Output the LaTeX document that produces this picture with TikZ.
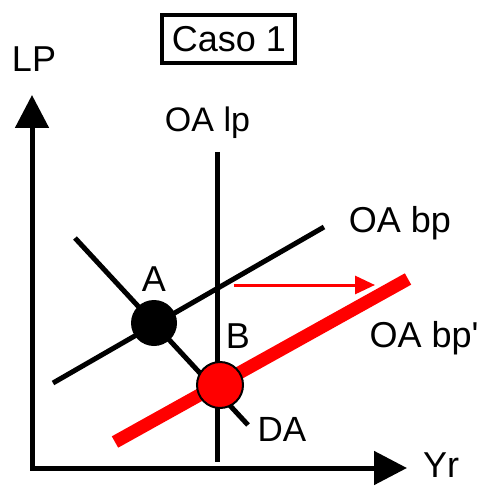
\documentclass[tikz,border=0pt]{standalone}
\usepackage{fontspec}
\setmainfont{Liberation Sans}
\newfontfamily\lsans{Liberation Sans}
\usetikzlibrary{arrows.meta}
\begin{document}
\begin{tikzpicture}[x=1pt,y=-1pt,
  lbl/.style={anchor=base,inner sep=0pt,font=\lsans\fontsize{36}{40}\selectfont},
  axis/.style={line width=5pt,line join=miter,{Triangle[length=33pt,width=33pt]}-{Triangle[length=33pt,width=33pt]}},
  curve/.style={line width=5pt},
  dot/.style={circle,minimum size=46pt,inner sep=0pt}]
\useasboundingbox (0,0) rectangle (479,486);
% axes
\coordinate (ytip) at (32,95);
\coordinate (orig) at (32,468);
\coordinate (xtip) at (407,468);
\draw[axis] (ytip) -- (orig) -- (xtip);
\node[lbl] (lp) at (34,72) {LP};
\node[lbl] (yr) at (441,477) {Yr};
% title
\node[draw,line width=4pt,minimum width=133pt,minimum height=48pt,inner sep=0pt] (caso) at (228.5,39) {};
\node[lbl] (casotxt) at (229,52) {Caso 1};
% curves
\coordinate (lpT) at (217,152);
\coordinate (lpB) at (217,462);
\draw[curve] (lpT) -- (lpB);
\node[lbl,font=\lsans\fontsize{34}{40}\selectfont] (oalp) at (207.5,132) {OA lp};
\coordinate (bpS) at (53,383);
\coordinate (bpE) at (324,227);
\draw[curve] (bpS) -- (bpE);
\node[lbl] (oabp) at (400,232) {OA bp};
\coordinate (daS) at (75,238);
\coordinate (daE) at (248,425);
\draw[curve] (daS) -- (daE);
\node[lbl,font=\lsans\fontsize{35}{40}\selectfont] (da) at (282,441) {DA};
\coordinate (rS) at (115,442);
\coordinate (rE) at (408,279);
\draw[red,line width=13pt] (rS) -- (rE);
\node[lbl] (oabpp) at (424,347) {OA bp'};
% shift arrow
\coordinate (shS) at (234,285);
\coordinate (shE) at (375,285);
\draw[red,line width=3pt,-{Triangle[length=20pt,width=18pt]}] (shS) -- (shE);
% points
\node[dot,fill=black] (A) at (154,323) {};
\node[dot,fill=red,draw=black,line width=2pt] (B) at (220,385) {};
\node[lbl] (Alab) at (154,291) {A};
\node[lbl] (Blab) at (238,348) {B};
\end{tikzpicture}
\end{document}
